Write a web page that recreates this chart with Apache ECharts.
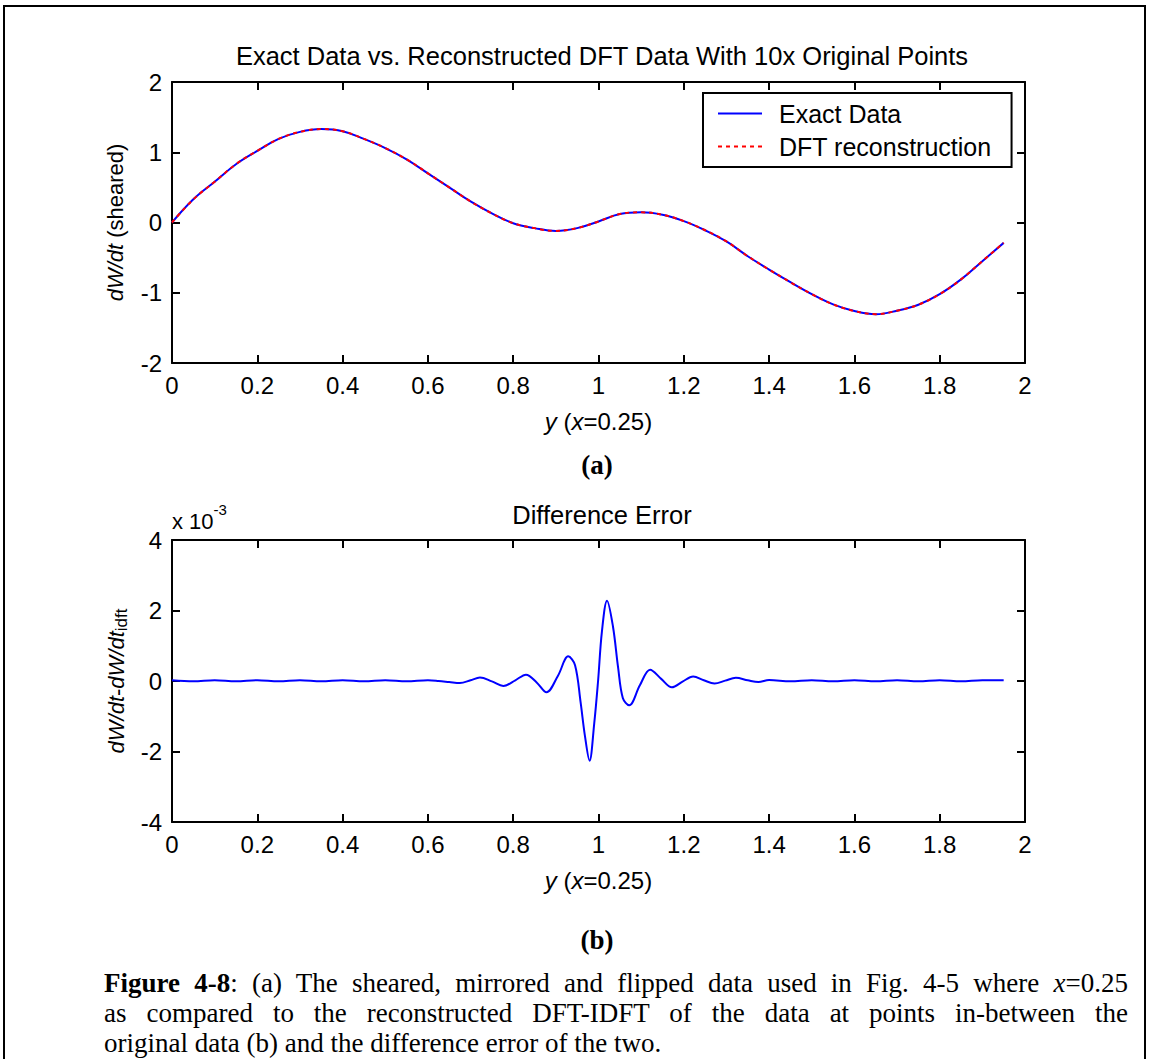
<!DOCTYPE html>
<html><head><meta charset="utf-8">
<script src="https://cdn.jsdelivr.net/npm/echarts@6/dist/echarts.min.js"></script>
<style>
html,body{margin:0;padding:0;background:#fff;}
#wrap{position:relative;width:1149px;height:1059px;overflow:hidden;background:#fff;}
#chart{position:absolute;left:0;top:0;width:1149px;height:1059px;}
.frame{position:absolute;left:3px;top:5px;width:1143px;height:1100px;border:2px solid #000;box-sizing:border-box;pointer-events:none;}
.cap{position:absolute;left:104px;width:1024px;font-family:"Liberation Serif","Times New Roman",serif;font-size:27px;line-height:30px;color:#000;}
.j{text-align:justify;text-align-last:justify;}
</style>
</head><body>
<div id="wrap">
<div id="chart"></div>
<div class="frame"></div>
<div class="cap j" style="top:968px;"><b>Figure 4-8</b>: (a) The sheared, mirrored and flipped data used in Fig. 4-5 where <i>x</i>=0.25</div>
<div class="cap j" style="top:998px;">as compared to the reconstructed DFT-IDFT of the data at points in-between the</div>
<div class="cap" style="top:1028px;">original data (b) and the difference error of the two.</div>
</div>
<script>
// ---- data ----
const yPos = [0,0.05,0.1,0.15,0.2,0.25,0.3,0.35,0.4,0.45,0.5,0.55,0.6,0.65,0.7,0.75,0.8,0.85,0.9,0.95,1.0,1.05,1.1,1.15,1.2,1.25,1.3,1.35,1.4,1.45,1.5,1.55,1.6,1.65,1.7,1.75,1.8,1.85,1.9,1.95];
const exactData = [0.00,0.33,0.58,0.83,1.02,1.19,1.29,1.33,1.30,1.19,1.06,0.90,0.70,0.50,0.30,0.13,-0.01,-0.08,-0.12,-0.08,0.015,0.12,0.145,0.11,0.02,-0.11,-0.27,-0.48,-0.67,-0.85,-1.02,-1.165,-1.26,-1.305,-1.255,-1.17,-1.02,-0.81,-0.55,-0.29];
const dftData   = [0.00,0.33,0.58,0.83,1.02,1.19,1.29,1.33,1.30,1.19,1.06,0.90,0.70,0.50,0.30,0.13,-0.01,-0.08,-0.12,-0.08,0.015,0.12,0.145,0.11,0.02,-0.11,-0.27,-0.48,-0.67,-0.85,-1.02,-1.165,-1.26,-1.305,-1.255,-1.17,-1.02,-0.81,-0.55,-0.29];
const errPos = [0,0.05,0.1,0.15,0.2,0.25,0.3,0.35,0.4,0.45,0.5,0.55,0.6,0.625,0.65,0.675,0.7,0.722,0.75,0.777,0.805,0.83,0.855,0.878,0.905,0.929,0.945,0.958,0.968,0.979,0.99,0.999,1.008,1.02,1.034,1.046,1.057,1.072,1.097,1.121,1.147,1.172,1.197,1.222,1.247,1.272,1.297,1.322,1.35,1.375,1.4,1.45,1.5,1.55,1.6,1.65,1.7,1.75,1.8,1.85,1.9,1.95];
const errE3 = [0.02,-0.01,0.02,-0.01,0.02,-0.01,0.02,-0.01,0.02,-0.01,0.02,-0.01,0.02,0.0,-0.03,-0.06,0.02,0.10,-0.01,-0.14,0.02,0.18,-0.04,-0.32,0.15,0.70,0.45,-0.6,-1.54,-2.26,-1.2,0.0,1.4,2.28,1.54,0.38,-0.48,-0.69,-0.12,0.32,0.06,-0.18,-0.02,0.13,0.02,-0.07,0.01,0.09,0.02,-0.03,0.03,-0.01,0.02,-0.01,0.02,-0.01,0.02,-0.01,0.02,-0.01,0.02,0.02];
const xTicks = {min:0, max:2, interval:0.2};
const yTicksTop = {min:-2, max:2, interval:1};
const yTicksBot = {min:-4, max:4, interval:2};

const SANS = '"Liberation Sans", Arial, Helvetica, sans-serif';
const chart = echarts.init(document.getElementById('chart'), null, {renderer:'svg'});

const axLine = {show:true, onZero:false, lineStyle:{color:'#000', width:2}};
const axTick = {show:true, inside:true, length:8, lineStyle:{color:'#000', width:2}};
function xAx(g, pos, labels, name){
  const a = {type:'value', gridIndex:g, position:pos, min:xTicks.min, max:xTicks.max, interval:xTicks.interval,
    axisLine:axLine, axisTick:axTick, splitLine:{show:false},
    axisLabel:{show:labels, color:'#000', fontSize:24, fontFamily:SANS, margin:10}};
  if (name){ a.name = name; a.nameLocation='middle'; a.nameGap=46;
    a.nameTextStyle={color:'#000', fontSize:24, fontFamily:SANS, rich:{i:{fontStyle:'italic', fontSize:24, fontFamily:SANS, color:'#000'}}}; }
  return a;
}
function yAx(g, pos, labels, t, name, rich, gap){
  const a = {type:'value', gridIndex:g, position:pos, min:t.min, max:t.max, interval:t.interval,
    axisLine:axLine, axisTick:axTick, splitLine:{show:false},
    axisLabel:{show:labels, color:'#000', fontSize:24, fontFamily:SANS, margin:10}};
  if (name){ a.name=name; a.nameLocation='middle'; a.nameGap=gap; a.nameRotate=90;
    a.nameTextStyle={color:'#000', fontSize:22, fontFamily:SANS, rich:rich}; }
  return a;
}
const richI = {i:{fontStyle:'italic', fontSize:22, fontFamily:SANS, color:'#000'}};
const richSub = {
  i:{fontStyle:'italic', fontSize:22, fontFamily:SANS, color:'#000', lineHeight:24, verticalAlign:'top'},
  sub:{fontSize:17, fontFamily:SANS, color:'#000', lineHeight:17, padding:[14,0,0,0], verticalAlign:'bottom'}
};

const option = {
  animation:false,
  backgroundColor:'#fff',
  title:[
    {text:'Exact Data vs. Reconstructed DFT Data With 10x Original Points', left:597, textAlign:'center', top:38,
     textStyle:{fontSize:25.5, fontWeight:'normal', color:'#000', fontFamily:SANS}},
    {text:'Difference Error', left:597, textAlign:'center', top:497,
     textStyle:{fontSize:25.5, fontWeight:'normal', color:'#000', fontFamily:SANS}}
  ],
  grid:[
    {left:172, top:82, width:853, height:281},
    {left:172, top:540, width:853, height:282}
  ],
  legend:{
    data:['Exact Data','DFT reconstruction'], orient:'vertical', left:703, top:93,
    itemWidth:44, itemHeight:14, itemGap:8, padding:[8,20,8,14],
    borderColor:'#000', borderWidth:2, backgroundColor:'#fff',
    itemStyle:{opacity:0},
    textStyle:{fontSize:25, color:'#000', fontFamily:SANS, lineHeight:24, padding:[0,0,0,12]}
  },
  xAxis:[
    xAx(0,'bottom',true,'{i|y} ({i|x}=0.25)'), xAx(0,'top',false),
    xAx(1,'bottom',true,'{i|y} ({i|x}=0.25)'), xAx(1,'top',false)
  ],
  yAxis:[
    yAx(0,'left',true,yTicksTop,'{i|dW/dt} (sheared)',richI,46), yAx(0,'right',false,yTicksTop),
    yAx(1,'left',true,yTicksBot,'{i|dW/dt}-{i|dW/dt}{sub|idft}',richSub,36), yAx(1,'right',false,yTicksBot)
  ],
  series:[
    {type:'line', name:'Exact Data', xAxisIndex:0, yAxisIndex:0, data:yPos.map((x,i)=>[x,exactData[i]]),
     symbol:'none', showSymbol:false, smooth:0.4, lineStyle:{color:'#0000ff', width:2}, itemStyle:{color:'#0000ff'}, z:2, silent:true},
    {type:'line', name:'DFT reconstruction', xAxisIndex:0, yAxisIndex:0, data:yPos.map((x,i)=>[x,dftData[i]]),
     symbol:'none', showSymbol:false, smooth:0.4, lineStyle:{color:'#ff0000', width:2, type:[4,4]}, itemStyle:{color:'#ff0000'}, z:3, silent:true},
    {type:'line', name:'Difference', xAxisIndex:2, yAxisIndex:2, data:errPos.map((x,i)=>[x,errE3[i]]),
     symbol:'none', showSymbol:false, smooth:0.35, lineStyle:{color:'#0000ff', width:2}, itemStyle:{color:'#0000ff'}, z:2, silent:true}
  ],
  graphic:[
    {type:'text', left:172, top:502, style:{text:'{a|x 10}{s|-3}', rich:{
      a:{fontSize:22, fontFamily:SANS, fill:'#000', lineHeight:30, verticalAlign:'bottom'},
      s:{fontSize:15, fontFamily:SANS, fill:'#000', lineHeight:15, verticalAlign:'top'}}}},
    {type:'text', x:597, y:465, style:{text:'(a)', font:'bold 27px "Liberation Serif", "Times New Roman", serif', fill:'#000', align:'center', verticalAlign:'middle'}},
    {type:'text', x:597, y:940, style:{text:'(b)', font:'bold 27px "Liberation Serif", "Times New Roman", serif', fill:'#000', align:'center', verticalAlign:'middle'}}
  ]
};
chart.setOption(option);
</script>
</body></html>
